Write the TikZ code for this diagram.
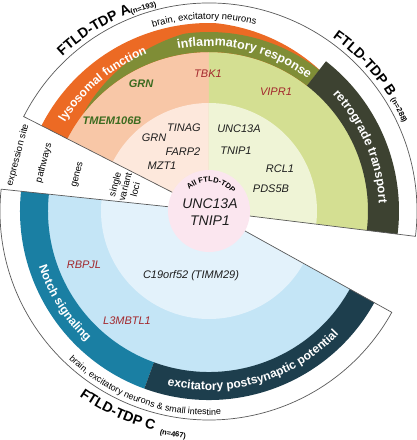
\documentclass[tikz,border=0pt]{standalone}
\usepackage{fontspec}
\setmainfont{Liberation Sans}
\usetikzlibrary{decorations.text}
\definecolor{cOrange}{HTML}{EC6A24}
\definecolor{cPeach}{HTML}{F8C7A7}
\definecolor{cPeachL}{HTML}{FDE8DC}
\definecolor{cOlive}{HTML}{7F8D36}
\definecolor{cGreen}{HTML}{D4DF92}
\definecolor{cGreenL}{HTML}{EFF4D6}
\definecolor{cDark}{HTML}{3D4231}
\definecolor{cTeal}{HTML}{1A7FA3}
\definecolor{cNavy}{HTML}{1D3E4D}
\definecolor{cBlue}{HTML}{C4E5F6}
\definecolor{cBlueL}{HTML}{E3F2FB}
\definecolor{cPink}{HTML}{FBE6EF}
\definecolor{cGeneGreen}{HTML}{3C6B1F}
\definecolor{cGeneRed}{HTML}{A3282D}
\definecolor{cGeneBlack}{HTML}{1E1E1E}
\definecolor{cLine}{HTML}{5A5A5A}
\newcommand\wedgefill[4]{\fill[#1] (0,0) -- (#2:#4) arc[start angle=#2, end angle=#3, radius=#4] -- cycle;}
\newcommand\ringfill[5]{\fill[#1] (#2:#4) arc[start angle=#2, end angle=#3, radius=#4] -- (#3:#5) arc[start angle=#3, end angle=#2, radius=#5] -- cycle;}
\newcommand\curvetext[5]{\path[decorate, decoration={text along path, text align=center, text={|#4|#5}}] (#1:#3) arc[start angle=#1, end angle=#2, radius=#3];}
\newcommand\curvetextL[5]{\path[decorate, decoration={text along path, text align=left, text={|#4|#5}}] (#1:#3) arc[start angle=#1, end angle=#2, radius=#3];}
\begin{document}
\begin{tikzpicture}[x=1pt,y=1pt,
  gene/.style={font=\fontsize{11}{11}\selectfont\itshape, text=cGeneBlack, inner sep=0pt},
  genegreen/.style={gene, font=\fontsize{11}{11}\selectfont\bfseries\itshape, text=cGeneGreen},
  genered/.style={gene, text=cGeneRed},
  levellab/.style={font=\fontsize{9.5}{10.5}\selectfont, rotate=75, align=center, inner sep=0pt},
  sectorline/.style={draw=cLine, line width=0.7pt}]
\fill[white] (-209,-229) rectangle (208,211);
\useasboundingbox (-209,-229) rectangle (208,211);
% genes and single variant rings
\wedgefill{cPeach}{90}{153}{160}
\wedgefill{cPeachL}{90}{153}{108}
\wedgefill{cGreen}{-7}{90}{160}
\wedgefill{cGreenL}{-7}{90}{108}
\wedgefill{cBlue}{174}{331}{162}
\wedgefill{cBlueL}{174}{331}{108}
% pathways A/B
\fill[cOrange] plot[domain=52:153, samples=90] (\x:{188-max(0,88-\x)*8/33}) -- (153:159) arc[start angle=153, end angle=52, radius=159] -- cycle;
\fill[cOlive] plot[domain=52:142, samples=90] (\x:{179-max(0,\x-98)*20/44}) -- (142:159) arc[start angle=142, end angle=52, radius=159] -- cycle;
\ringfill{cDark}{-7}{52}{159}{190}
% pathways C
\ringfill{cTeal}{174}{250}{161}{189}
\ringfill{cNavy}{250}{331}{161}{189}
% outlines
\draw[sectorline] (153:41) -- (153:208) arc[start angle=153, end angle=-7, radius=208] -- (-7:41);
\draw[sectorline] (174:41) -- (174:209) arc[start angle=174, end angle=331, radius=209] -- (331:41);
% centre
\fill[cPink] (0,0) circle[radius=41];
\curvetext{150}{20}{29}{\fontsize{7.5}{7.5}\selectfont\bfseries}{All FTLD-TDP}
\node[font=\fontsize{14}{14}\selectfont\itshape, text=cGeneBlack] (cUNC) at (1,7) {UNC13A};
\node[font=\fontsize{14}{14}\selectfont\itshape, text=cGeneBlack] (cTNIP) at (1,-10) {TNIP1};
% pathway labels
\curvetext{155}{105}{169}{\fontsize{12}{12}\selectfont\bfseries\color{white}}{lysosomal function}
\curvetext{104}{50}{165}{\fontsize{12.5}{12.5}\selectfont\bfseries\color{white}}{inflammatory response}
\curvetext{50}{-4}{170}{\fontsize{12.5}{12.5}\selectfont\bfseries\color{white}}{retrograde transport}
\curvetext{185}{240}{179}{\fontsize{12}{12}\selectfont\bfseries\color{white}}{Notch signaling}
\curvetext{245}{328}{179}{\fontsize{12}{12}\selectfont\bfseries\color{white}}{excitatory postsynaptic potential}
% expression site labels
\curvetext{125}{58}{192}{\fontsize{9.5}{9.5}\selectfont}{brain{,} excitatory neurons}
\curvetext{215}{285}{204}{\fontsize{9}{9}\selectfont}{brain{,} excitatory neurons {\&} small intestine}
% subtype labels
\curvetextL{133.5}{100}{213}{\fontsize{14}{14}\selectfont\bfseries}{FTLD-TDP A}
\curvetextL{111.5}{90}{211}{\fontsize{7.5}{7.5}\selectfont\bfseries}{(n=193)}
\curvetextL{54.5}{20}{213}{\fontsize{14}{14}\selectfont\bfseries}{FTLD-TDP B}
\curvetextL{31.5}{10}{213}{\fontsize{7.5}{7.5}\selectfont\bfseries}{(n=288)}
\curvetextL{235}{270}{226}{\fontsize{14}{14}\selectfont\bfseries}{FTLD-TDP C}
\curvetextL{257.5}{280}{228.5}{\fontsize{7.5}{7.5}\selectfont\bfseries}{(n=467)}
% genes
\node[genegreen] (gGRN) at (-68,127) {GRN};
\node[genegreen] (gTMEM) at (-97,90) {TMEM106B};
\node[genered] (gTBK) at (-1,137) {TBK1};
\node[genered] (gVIPR) at (67,119) {VIPR1};
\node[gene] (sTINAG) at (-25,83) {TINAG};
\node[gene] (sGRN) at (-55,73) {GRN};
\node[gene] (sFARP) at (-26,59) {FARP2};
\node[gene] (sMZT) at (-47,45) {MZT1};
\node[gene] (sUNC) at (30,82) {UNC13A};
\node[gene] (sTNIP) at (27,60) {TNIP1};
\node[gene] (sRCL) at (71,42) {RCL1};
\node[gene] (sPDS) at (62,22) {PDS5B};
\node[gene] (sC19) at (-18,-65) {C19orf52 (TIMM29)};
\node[genered] (gRBPJL) at (-125,-54) {RBPJL};
\node[genered] (gL3M) at (-82,-110) {L3MBTL1};
% level labels
\node[levellab] (lExpr) at (-191,56) {expression site};
\node[levellab] (lPath) at (-165,48) {pathways};
\node[levellab] (lGenes) at (-131,36) {genes};
\node[levellab] (lLoci) at (-84,24) {single\\variant\\loci};
\end{tikzpicture}
\end{document}
